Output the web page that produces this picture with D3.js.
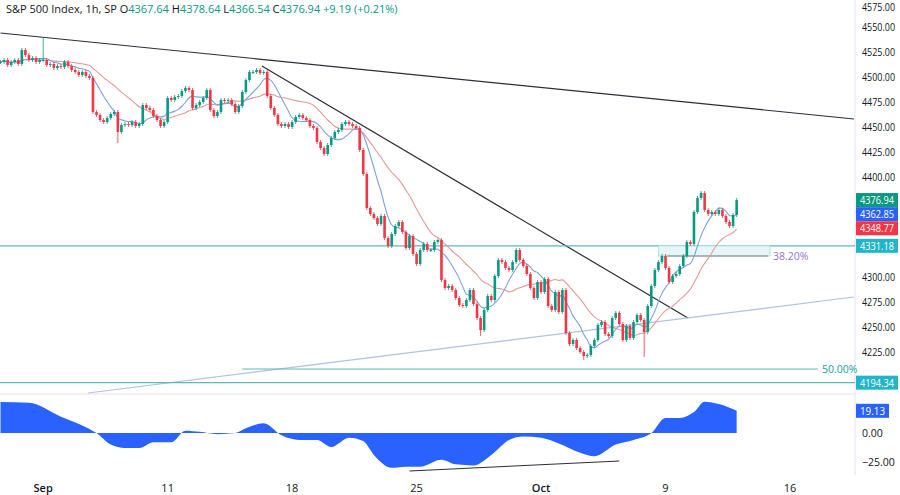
<!DOCTYPE html>
<html>
<head>
<meta charset="utf-8">
<script src="https://cdn.jsdelivr.net/npm/d3@7"></script>
<style>
  body { margin: 0; background: #fff; }
  text { font-family: "Open Sans", "DejaVu Sans", sans-serif; }
</style>
</head>
<body>
<script>
// hourly closes, S&P 500, Aug 30 - Oct 11 (first close used as first open)
var closes = [
  4515,4517,4512,4515,4517,4513,4527,4522,4517,4519,
  4515,4517,4517,4512,4513,4509,4511,4510,4515,4511,
  4507,4505,4502,4505,4501,4499,4465,4462,4457,4455,
  4459,4463,4465,4445,4452,4453,4452,4455,4451,4453,
  4472,4469,4467,4461,4457,4451,4455,4479,4477,4480,
  4481,4486,4489,4487,4469,4472,4475,4479,4487,4467,
  4461,4465,4477,4476,4477,4473,4465,4471,4485,4497,
  4505,4505,4507,4504,4505,4481,4469,4462,4453,4451,
  4453,4450,4455,4460,4462,4459,4457,4451,4449,4435,
  4429,4423,4432,4439,4445,4447,4453,4455,4453,4451,
  4449,4427,4403,4369,4363,4359,4353,4361,4339,4331,
  4343,4351,4355,4345,4329,4341,4323,4313,4327,4333,
  4327,4327,4335,4337,4297,4289,4291,4287,4279,4272,
  4271,4277,4287,4273,4259,4247,4267,4281,4277,4301,
  4317,4315,4309,4307,4315,4327,4317,4311,4303,4289,
  4279,4295,4285,4298,4271,4267,4285,4265,4287,4244,
  4233,4237,4229,4225,4221,4222,4231,4237,4252,4255,
  4243,4241,4259,4264,4253,4237,4251,4239,4255,4262,
  4257,4245,4271,4291,4307,4315,4321,4309,4295,4301,
  4303,4311,4321,4335,4333,4365,4379,4384,4367,4363,
  4365,4363,4367,4361,4355,4351,4362,4376.94
];
var wickOverrides = { 12: { h: 4540 }, 33: { l: 4434 }, 135: { l: 4241 }, 181: { l: 4220 }, 164: { l: 4217 } };

var lastLabels = [
  { v: 4376.94, c: "#089981" },
  { v: 4362.85, c: "#2962ff" },
  { v: 4348.77, c: "#f23645" }
];
var hLevels = [4331.18, 4194.34];
var priceTicks = [4575, 4550, 4525, 4500, 4475, 4450, 4425, 4400, 4300, 4275, 4250, 4225];

// oscillator, sampled by bar index
var oscIdx = [0,8,17,24,27,31,35,39,43,48,52,56,61,66,69,74,79,84,89,93,98,102,105,110,114,118,124,128,133,138,143,147,152,157,163,167,173,178,183,187,191,195,198,202,207];
var oscVal = [26.7,26,14,5,0,-10,-13,-13,-8,-8,2,1,-1,0,4,8.5,-2,-6,-6,-12,-4,-7,-19,-30,-29,-29,-23,-27,-28,-19,-6,-3,-4,-9,-17,-20,-10,-6,0,13,13,18,27,25,19.13];
var oscTicks = [0, -25];

var timeLabels = ["Sep", "11", "18", "25", "Oct", "9", "16"];
var timeIdx = [12, 47, 82, 117, 152, 187, 222];

var W = 900, H = 495, plotW = 855;
var svg = d3.select("body").append("svg").attr("width", W).attr("height", H);

var x = d3.scaleLinear().domain([0, 240]).range([0.5, 854]);
var y = d3.scaleLinear().domain([4200, 4575]).range([377, 2]);
var yo = d3.scaleLinear().domain([-25, 25]).range([462, 404]);

var bars = closes.map(function(c, i) {
  var o = i ? closes[i - 1] : c;
  var ov = wickOverrides[i] || {};
  return { i: i, o: o, c: c, h: ov.h || Math.max(o, c) + 2, l: ov.l || Math.min(o, c) - 2 };
});

function sma(n) {
  return closes.map(function(c, i) {
    var s = closes.slice(Math.max(0, i - n + 1), i + 1);
    return d3.mean(s);
  });
}

// panel borders
svg.append("line").attr("x1", 0).attr("x2", plotW).attr("y1", 394).attr("y2", 394).attr("stroke", "#e0e3eb");
svg.append("line").attr("x1", plotW).attr("x2", plotW).attr("y1", 0).attr("y2", 475).attr("stroke", "#e0e3eb");

// trend lines
var trend = [
  { a: [0, 4544], b: [240, 4458], c: "#2a2e39", w: 1.2 },
  { a: [73.5, 4511], b: [193.3, 4259], c: "#2a2e39", w: 1.2 },
  { a: [24.6, 4184], b: [240, 4280], c: "#b2c3dd", w: 1.2 }
];
svg.selectAll(".tl").data(trend).enter().append("line")
  .attr("x1", function(d) { return x(d.a[0]); }).attr("y1", function(d) { return y(d.a[1]); })
  .attr("x2", function(d) { return x(d.b[0]); }).attr("y2", function(d) { return y(d.b[1]); })
  .attr("stroke", function(d) { return d.c; }).attr("stroke-width", function(d) { return d.w; });

// horizontal levels
svg.selectAll(".hl").data(hLevels).enter().append("line")
  .attr("x1", 0).attr("x2", plotW).attr("y1", function(d) { return y(d); }).attr("y2", function(d) { return y(d); })
  .attr("stroke", "#5fb8b8").attr("stroke-width", 1.2);

// fib 38.2 box and 50 line
svg.append("rect").attr("x", x(185)).attr("y", y(4331.18)).attr("width", 770 - x(185)).attr("height", y(4321) - y(4331.18))
  .attr("fill", "#e6f6f7").attr("stroke", "#a8dde0").attr("stroke-width", 0.8);
svg.append("line").attr("x1", x(187.5)).attr("x2", 768).attr("y1", y(4321)).attr("y2", y(4321)).attr("stroke", "#787b86");
svg.append("text").attr("x", 773).attr("y", y(4321) + 4).attr("font-size", 10.5).attr("fill", "#9575cd").text("38.20%");
svg.append("line").attr("x1", x(68)).attr("x2", 818).attr("y1", y(4208)).attr("y2", y(4208)).attr("stroke", "#5fb8b8");
svg.append("text").attr("x", 822).attr("y", y(4208) + 4).attr("font-size", 10.5).attr("fill", "#22a0a0").text("50.00%");

// moving averages
var line = d3.line().x(function(d, i) { return x(i); }).y(function(d) { return y(d); }).curve(d3.curveMonotoneX);
svg.append("path").attr("d", line(sma(20))).attr("fill", "none").attr("stroke", "#e39a9a").attr("stroke-width", 1.1);
svg.append("path").attr("d", line(sma(8))).attr("fill", "none").attr("stroke", "#7ea3d9").attr("stroke-width", 1.1);

// candles
var g = svg.append("g").selectAll("g").data(bars).enter().append("g");
function col(d) { return d.c >= d.o ? "#089981" : "#f23645"; }
g.append("line").attr("x1", function(d) { return x(d.i); }).attr("x2", function(d) { return x(d.i); })
  .attr("y1", function(d) { return y(d.h); }).attr("y2", function(d) { return y(d.l); })
  .attr("stroke", col).attr("stroke-width", 0.8);
g.append("rect").attr("x", function(d) { return x(d.i) - 1.3; }).attr("width", 2.6)
  .attr("y", function(d) { return y(Math.max(d.o, d.c)); })
  .attr("height", function(d) { return Math.max(1, Math.abs(y(d.o) - y(d.c))); })
  .attr("fill", col);

// oscillator
var oscData = oscIdx.map(function(d, i) { return [d, oscVal[i]]; });
svg.append("path")
  .attr("d", d3.area().x(function(d) { return x(d[0]); }).y0(yo(0)).y1(function(d) { return yo(d[1]); }).curve(d3.curveMonotoneX)(oscData))
  .attr("fill", "#2962ff");
svg.append("line").attr("x1", x(115)).attr("y1", 471).attr("x2", x(174)).attr("y2", 461).attr("stroke", "#2a2e39").attr("stroke-width", 1);

// price axis
var fmt = d3.format(".2f");
svg.selectAll(".pt").data(priceTicks).enter().append("text")
  .attr("x", 862).attr("y", function(d) { return Math.max(y(d) + 4, 11); }).attr("font-size", 10.5).attr("fill", "#131722")
  .attr("textLength", 33).attr("lengthAdjust", "spacingAndGlyphs")
  .text(fmt);
svg.selectAll(".ot").data(oscTicks).enter().append("text")
  .attr("x", 862).attr("y", function(d) { return yo(d) + 4; }).attr("font-size", 10.5).attr("fill", "#131722")
  .text(fmt);

function tag(v, ypos, c, w) {
  svg.append("rect").attr("x", 856).attr("y", ypos - 7).attr("width", w || 42).attr("height", 14).attr("fill", c);
  svg.append("text").attr("x", 860).attr("y", ypos + 4).attr("font-size", 10.5).attr("fill", "#fff")
    .attr("textLength", fmt(v).length > 5 ? 34 : 25).attr("lengthAdjust", "spacingAndGlyphs").text(fmt(v));
}
lastLabels.forEach(function(d) { tag(d.v, y(d.v), d.c); });
hLevels.forEach(function(d) { tag(d, y(d), "#22b5c9"); });
tag(oscVal[oscVal.length - 1], yo(oscVal[oscVal.length - 1]), "#2962ff", 33);

// time axis
svg.selectAll(".tt").data(timeLabels).enter().append("text")
  .attr("x", function(d, i) { return x(timeIdx[i]); }).attr("y", 492).attr("text-anchor", "middle")
  .attr("font-size", 11).attr("fill", "#131722")
  .attr("font-weight", function(d) { return isNaN(+d) ? 600 : 400; })
  .text(function(d) { return d; });

// header
var hdr = svg.append("text").attr("x", 6).attr("y", 13).attr("font-size", 11).attr("fill", "#131722");
hdr.append("tspan").text("S&P 500 Index, 1h, SP  ");
[["O", "4367.64"], ["H", "4378.64"], ["L", "4366.54"], ["C", "4376.94"]].forEach(function(p) {
  hdr.append("tspan").text(" " + p[0]);
  hdr.append("tspan").attr("fill", "#089981").text(p[1]);
});
hdr.append("tspan").attr("fill", "#089981").text("  +9.19 (+0.21%)");
</script>
</body>
</html>
